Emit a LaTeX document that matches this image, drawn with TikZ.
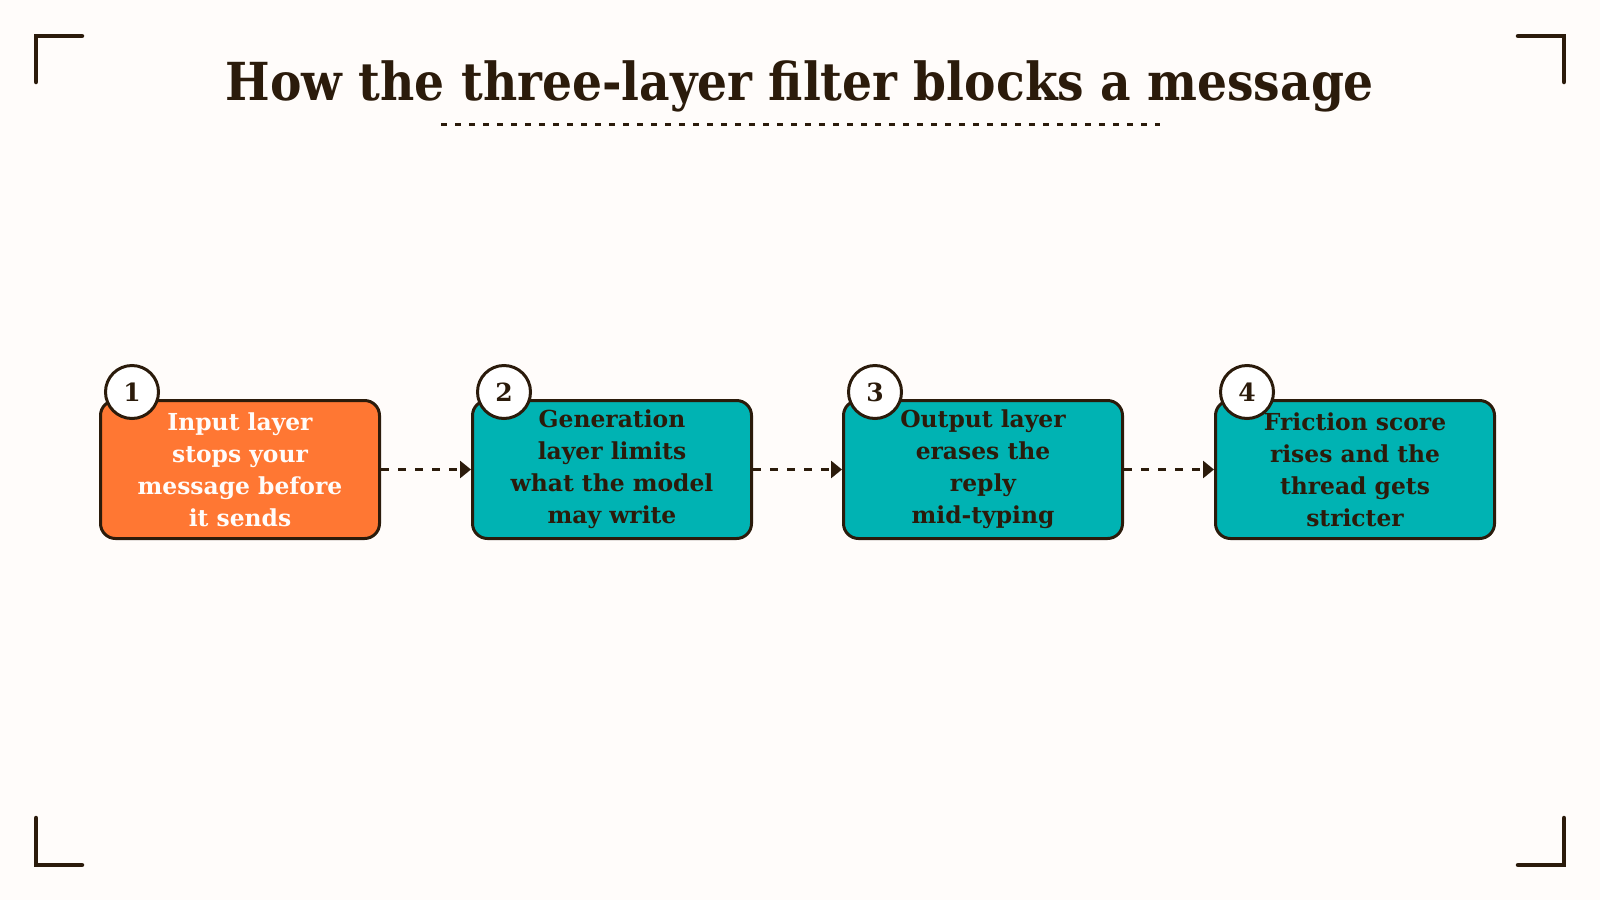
\documentclass[tikz,border=0pt]{standalone}
\usepackage{fontspec}
\setmainfont{DejaVu Serif}
\newfontfamily\headfont{DejaVu Serif Condensed}
\usetikzlibrary{calc,arrows.meta}
\definecolor{ink}{HTML}{2B1B0B}
\definecolor{paper}{HTML}{FFFCFA}
\definecolor{flame}{HTML}{FF7733}
\definecolor{lagoon}{HTML}{00B3B3}
\tikzstyle{layer}=[rectangle,
                   draw=ink,
                   line width=1.5pt,
                   rounded corners=7.5pt,
                   minimum width=139.5pt,
                   minimum height=69pt,
                   align=center,
                   text=ink,
                   font=\bfseries\fontsize{11.7}{16}\selectfont]
\tikzstyle{badge}=[circle,
                   draw=ink,
                   fill=white,
                   line width=1.5pt,
                   minimum size=26.5pt,
                   inner sep=0pt,
                   text=ink,
                   font=\bfseries\fontsize{12.5}{14}\selectfont]
\tikzstyle{flow}=[-{Triangle[length=5.5pt,width=8.5pt]},
                  draw=ink,
                  line width=1.5pt,
                  dash pattern=on 4pt off 4.5pt]
\tikzstyle{corner}=[draw=ink, line width=2.25pt, line cap=round]

\begin{document}
\begin{tikzpicture}[x=0.5pt,y=-0.5pt]
      \fill[paper] (0,0) rectangle (1600,900);
      \useasboundingbox (0,0) rectangle (1600,900);

      % frame corners
      \draw[corner] (82,36) -- (36,36) -- (36,82);
      \draw[corner] (1518,36) -- (1564,36) -- (1564,82);
      \draw[corner] (82,865) -- (36,865) -- (36,818);
      \draw[corner] (1518,865) -- (1564,865) -- (1564,818);

      \node[anchor=base, text=ink, font=\headfont\bfseries\fontsize{26.2}{30}\selectfont]
        (title) at (800,100) {How the three-layer filter blocks a message};
      \draw[ink, line width=1.5pt, dash pattern=on 3pt off 4pt] (441,124) -- (1160,124);

      \node[layer, fill=flame, text=paper] (input) at (240,469.5)
        {Input layer\\stops your\\message before\\it sends};
      \node[layer, fill=lagoon] (generation) at (612,469.5)
        {Generation\\layer limits\\what the model\\may write};
      \node[layer, fill=lagoon] (output) at (983,469.5)
        {Output layer\\erases the\\reply\\mid-typing};
      \node[layer, fill=lagoon] (friction) at (1355,469.5)
        {Friction score\\rises and the\\thread gets\\stricter};

      \node[badge] (one)   at ($(input.north west)+(33,-7)$) {1};
      \node[badge] (two)   at ($(generation.north west)+(33,-7)$) {2};
      \node[badge] (three) at ($(output.north west)+(33,-7)$) {3};
      \node[badge] (four)  at ($(friction.north west)+(33,-7)$) {4};

      \draw[flow] (input) -- (generation);
      \draw[flow] (generation) -- (output);
      \draw[flow] (output) -- (friction);
\end{tikzpicture}
\end{document}
